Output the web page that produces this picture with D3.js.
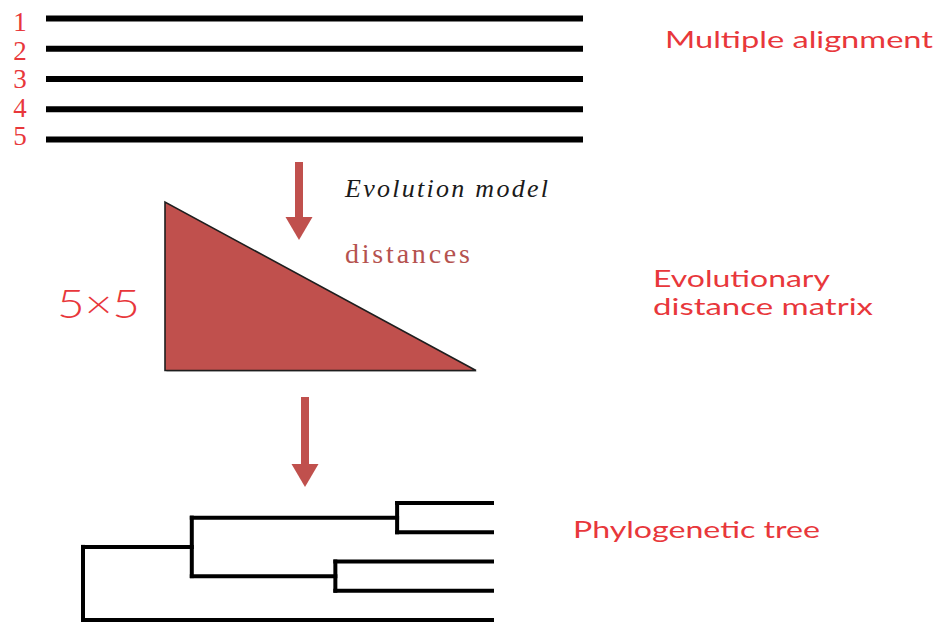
<!DOCTYPE html>
<html>
<head>
<meta charset="utf-8">
<script src="https://cdn.jsdelivr.net/npm/d3@7"></script>
<style>
  html, body { margin: 0; padding: 0; background: #fff; }
  svg { display: block; }
</style>
</head>
<body>
<svg id="chart" width="940" height="623"></svg>
<script>
// ---- data ----
const sequences = ["1", "2", "3", "4", "5"];
const stageLabels = [
  { lines: ["Multiple alignment"] },
  { lines: ["Evolutionary", "distance matrix"] },
  { lines: ["Phylogenetic tree"] }
];
const matrixLabel = "5×5";
const modelLabel = "Evolution model";
const distLabel = "distances";
// tree: branch depth (0 = root, 1 = tips)
const treeData = {
  name: "root", depth: 0, children: [
    { name: "n1", depth: 0.266, children: [
      { name: "n2", depth: 0.768, children: [
        { name: "A", depth: 1 }, { name: "B", depth: 1 } ] },
      { name: "n3", depth: 0.617, children: [
        { name: "C", depth: 1 }, { name: "D", depth: 1 } ] }
    ]},
    { name: "E", depth: 1 }
  ]
};

const RED = "#e8373b";
const BRICK = "#c0504d";
const SANS = "Lato, 'Open Sans', 'Noto Sans', sans-serif";
const SERIF = "'Liberation Serif', 'DejaVu Serif', serif";
const svg = d3.select("#chart");

// ---- multiple alignment ----
const rowY = d3.scalePoint().domain(sequences).range([18.5, 139.5]);
const labelY = d3.scalePoint().domain(sequences).range([31, 145]);
svg.append("g").selectAll("line").data(sequences).join("line")
  .attr("x1", 46).attr("x2", 583)
  .attr("y1", d => rowY(d)).attr("y2", d => rowY(d))
  .attr("stroke", "#000").attr("stroke-width", 6);
svg.append("g").selectAll("text").data(sequences).join("text")
  .attr("x", 20).attr("y", d => labelY(d))
  .attr("text-anchor", "middle")
  .attr("font-family", SERIF)
  .attr("font-size", 27).attr("fill", RED)
  .text(d => d);

// ---- arrows ----
function arrow(x, y0, y1) {
  const headLen = 23, headW = 27, shaftW = 8;
  const g = svg.append("g");
  g.append("rect").attr("x", x - shaftW / 2).attr("y", y0)
    .attr("width", shaftW).attr("height", y1 - y0 - headLen + 1)
    .attr("fill", BRICK);
  g.append("path")
    .attr("d", d3.line()([[x - headW / 2, y1 - headLen], [x + headW / 2, y1 - headLen], [x, y1]]) + "Z")
    .attr("fill", BRICK);
}
arrow(299, 162, 240);
arrow(305, 397, 487);

// ---- labels near arrow 1 ----
svg.append("text").attr("x", 345).attr("y", 197)
  .attr("font-family", SERIF)
  .attr("font-style", "italic").attr("font-size", 26).attr("fill", "#1a1a1a")
  .attr("textLength", 203).attr("lengthAdjust", "spacing")
  .text(modelLabel);
svg.append("text").attr("x", 345).attr("y", 263)
  .attr("font-family", SERIF)
  .attr("font-size", 28).attr("fill", "#b5524f")
  .attr("textLength", 125).attr("lengthAdjust", "spacing")
  .text(distLabel);

// ---- distance matrix triangle ----
const tri = [[165, 202], [165, 370.5], [476, 370.5]];
svg.append("path")
  .attr("d", d3.line()(tri.map(p => [p[0] + 1.5, p[1] + 1.5])) + "Z")
  .attr("fill", "#999").attr("opacity", 0.5);
svg.append("path")
  .attr("d", d3.line()(tri) + "Z")
  .attr("fill", BRICK).attr("stroke", "#1e1e1e").attr("stroke-width", 1.6)
  .attr("stroke-linejoin", "miter");
svg.append("text").attr("x", 57).attr("y", 318)
  .attr("font-family", SANS)
  .attr("font-weight", 300)
  .attr("font-size", 39).attr("fill", RED)
  .attr("textLength", 83).attr("lengthAdjust", "spacingAndGlyphs")
  .text(matrixLabel);

// ---- stage labels ----
const stagePos = [
  { x: 665, y: 48, w: [268] },
  { x: 653, y: 287, w: [177, 220] },
  { x: 573, y: 538, w: [247] }
];
stageLabels.forEach((s, i) => {
  s.lines.forEach((t, j) => {
    svg.append("text")
      .attr("x", stagePos[i].x).attr("y", stagePos[i].y + j * 28)
      .attr("font-family", SANS)
      .attr("font-size", 22.5).attr("fill", RED)
      .attr("textLength", stagePos[i].w[j]).attr("lengthAdjust", "spacingAndGlyphs")
      .text(t);
  });
});

// ---- phylogenetic tree ----
const root = d3.hierarchy(treeData);
const leaves = root.leaves();
const xTree = d3.scaleLinear().domain([0, 1]).range([83, 492]);
const yTree = d3.scalePoint().domain(leaves.map(d => d.data.name)).range([503, 620]);
root.eachAfter(n => {
  n.px = xTree(n.data.depth);
  n.py = n.children ? d3.mean([n.children[0].py, n.children[n.children.length - 1].py])
                    : yTree(n.data.name);
});
const segs = [];
root.each(n => {
  if (n.children) {
    const ys = n.children.map(c => c.py);
    segs.push([[n.px, d3.min(ys)], [n.px, d3.max(ys)]]);
    n.children.forEach(c => segs.push([[n.px, c.py], [c.px, c.py]]));
  }
});
svg.append("g").selectAll("path").data(segs).join("path")
  .attr("d", d => d3.line()(d))
  .attr("fill", "none").attr("stroke", "#000").attr("stroke-width", 4)
  .attr("stroke-linecap", "square");
</script>
</body>
</html>
